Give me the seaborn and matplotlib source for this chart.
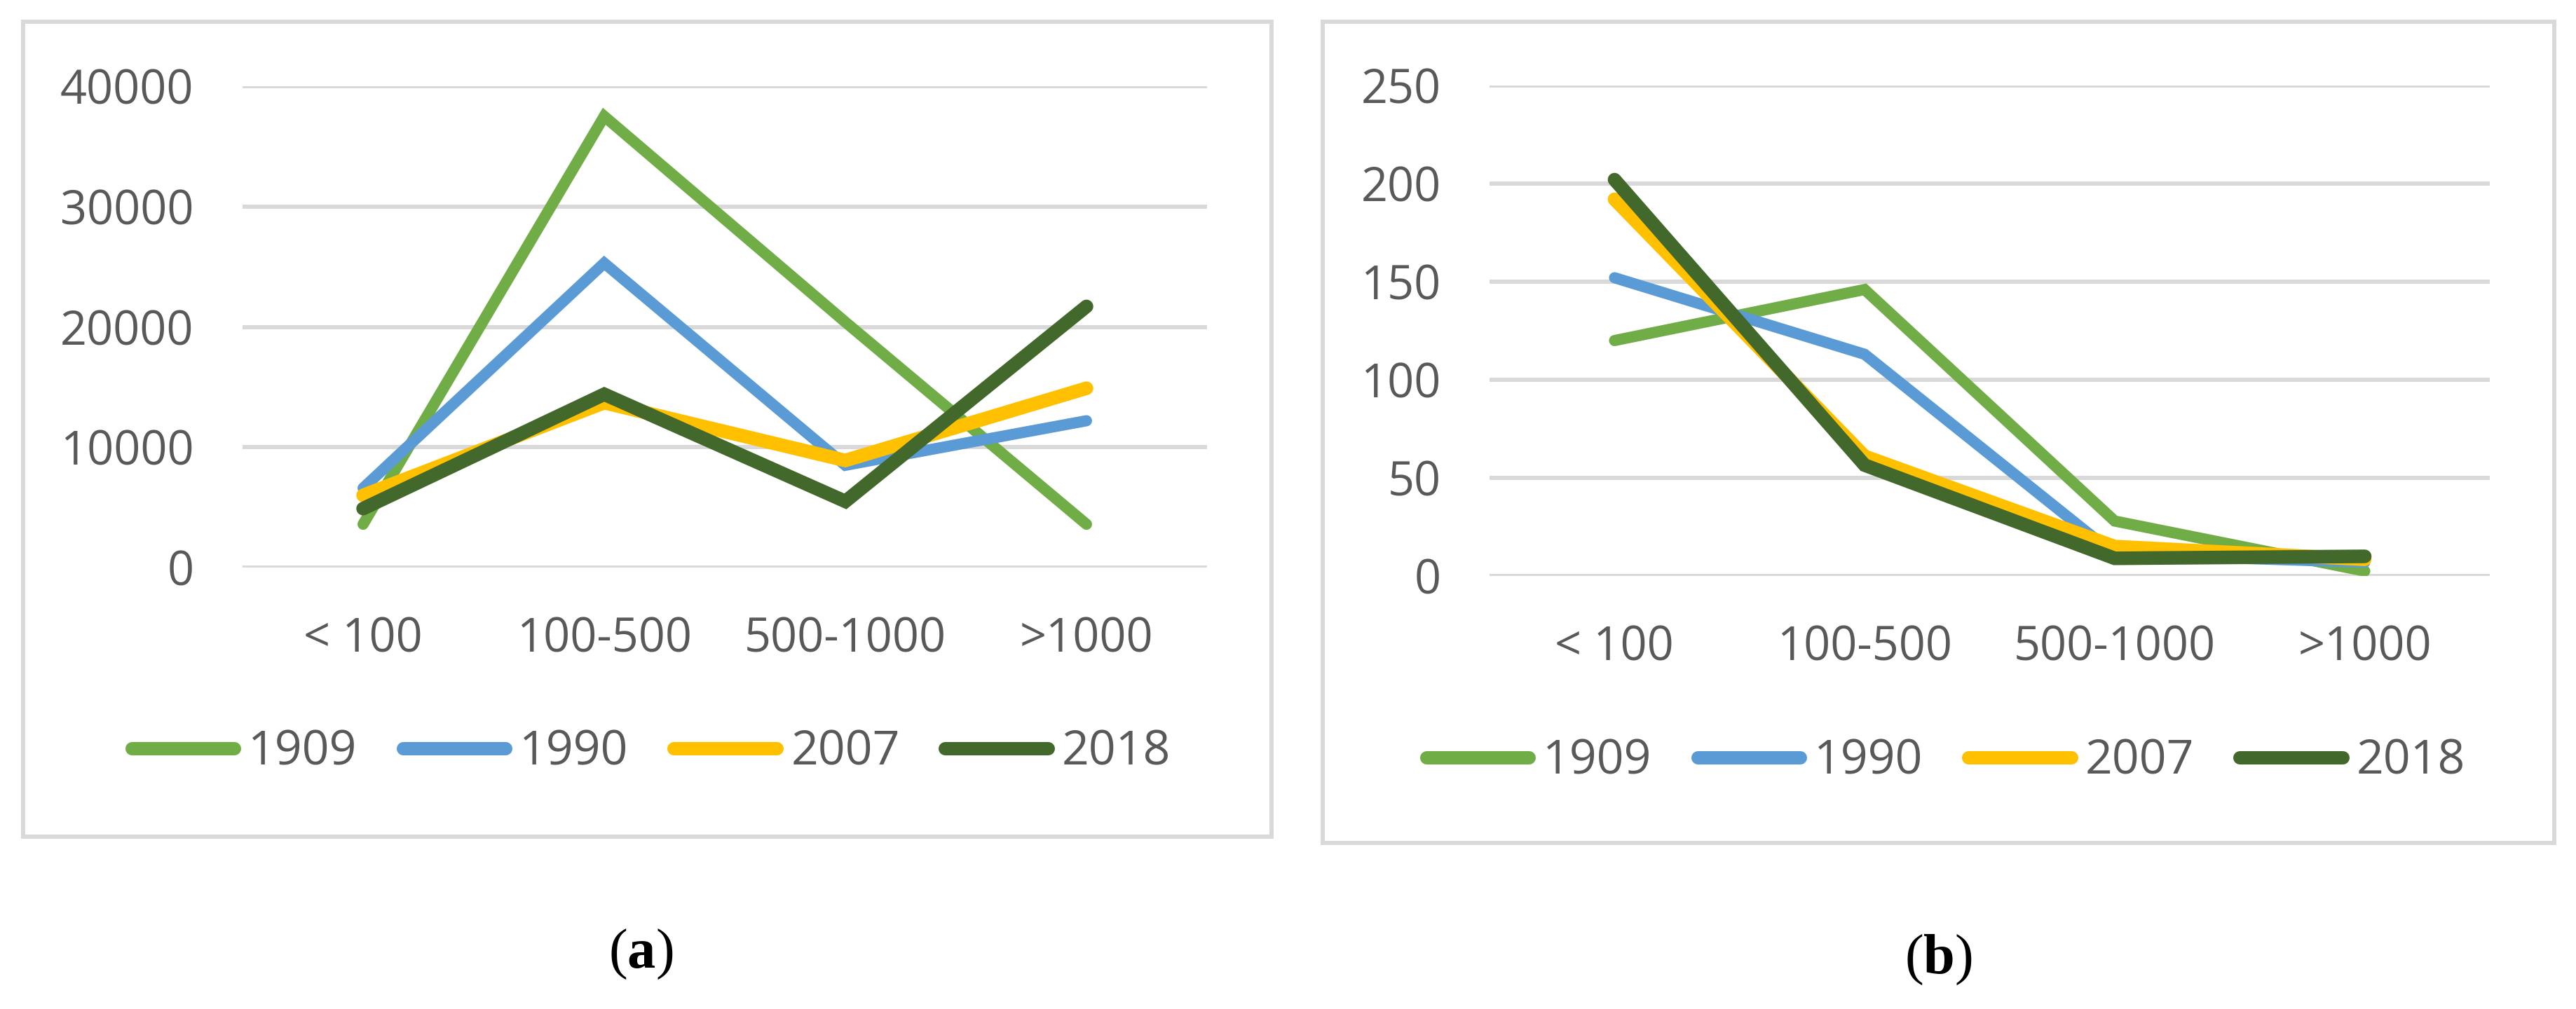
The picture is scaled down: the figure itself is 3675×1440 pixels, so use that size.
import pandas as pd
import numpy as np
import matplotlib
matplotlib.use('Agg')
import matplotlib.pyplot as plt
from matplotlib.lines import Line2D
from matplotlib.patches import Rectangle
import seaborn as sns

# data
sizes = ["< 100", "100-500", "500-1000", ">1000"]
years = ["1909", "1990", "2007", "2018"]

# panel (a)
a_1909 = [3600, 37500, 20400, 3600]
a_1990 = [6600, 25300, 8500, 12200]
a_2007 = [6000, 13700, 8900, 14900]
a_2018 = [4900, 14400, 5500, 21700]

# panel (b)
b_1909 = [120, 146, 28, 2.5]
b_1990 = [152, 113, 11, 7]
b_2007 = [192, 61, 15, 8.5]
b_2018 = [202, 56.5, 9, 10]

colors = {"1909": "#70AD47", "1990": "#5B9BD5", "2007": "#FFC000", "2018": "#43682B"}
widths = {"1909": 11.5, "1990": 11.5, "2007": 14, "2018": 14}
text_col = "#595959"
grid_col = "#D9D9D9"


def long_df(series):
    rows = []
    for yr, vals in zip(years, series):
        for s, v in zip(sizes, vals):
            rows.append({"size": s, "value": v, "year": yr})
    return pd.DataFrame(rows)


df_a = long_df([a_1909, a_1990, a_2007, a_2018])
df_b = long_df([b_1909, b_1990, b_2007, b_2018])

sns.set_theme(style="white")
plt.rcParams['font.family'] = ['Open Sans', 'DejaVu Sans']
plt.rcParams['mathtext.fontset'] = 'custom'
plt.rcParams['mathtext.rm'] = 'Liberation Serif'
plt.rcParams['mathtext.bf'] = 'Liberation Serif:bold'

W, H = 3675, 1440
fig = plt.figure(figsize=(W / 100, H / 100), dpi=100)
fig.patch.set_facecolor("white")


def fx(px):
    return px / W


def fy(py):
    return 1 - py / H


def panel(df, rect, ymax, ystep, box, leg_center):
    x0, x1, ytop, ybot = rect
    ax = fig.add_axes([fx(x0), fy(ybot), fx(x1) - fx(x0), fy(ytop) - fy(ybot)])
    ax.set_axisbelow(True)
    sns.lineplot(data=df, x="size", y="value", hue="year", size="year",
                 palette=colors, sizes=widths, sort=False, legend=False, ax=ax)
    for ln in ax.lines:
        ln.set_solid_capstyle("round")
        ln.set_solid_joinstyle("miter")
    ax.set_xlim(-0.5, 3.5)
    ax.set_ylim(0, ymax)
    ax.set_yticks(np.arange(0, ymax + 1, ystep))
    ax.yaxis.grid(True, color=grid_col, linewidth=4.3)
    ax.xaxis.grid(False)
    for sp in ax.spines.values():
        sp.set_visible(False)
    ax.set_xlabel("")
    ax.set_ylabel("")
    ax.tick_params(axis="both", length=0, labelsize=48, labelcolor=text_col)
    ax.tick_params(axis="y", pad=50)
    ax.tick_params(axis="x", pad=50)
    ax.patch.set_alpha(0)

    # chart border
    bx0, by0, bx1, by1 = box
    fig.patches.append(Rectangle((fx(bx0), fy(by1)), fx(bx1) - fx(bx0), fy(by0) - fy(by1),
                                 transform=fig.transFigure, fill=False,
                                 edgecolor=grid_col, linewidth=4.3, zorder=0))

    handles = [Line2D([0], [0], color=colors[y], lw=13.7, solid_capstyle="round") for y in years]
    fig.legend(handles, years, loc="center", ncol=4, frameon=False,
               bbox_to_anchor=(fx(leg_center[0]), fy(leg_center[1])),
               fontsize=49, labelcolor=text_col, handlelength=2.15,
               handletextpad=0.3, columnspacing=0.95, borderpad=0)
    return ax


panel(df_a, (346, 1722, 123, 810), 40000, 10000, (32.5, 30.5, 1814, 1194), (929, 1074))
panel(df_b, (2125, 3552, 122, 822), 250, 50, (1887, 30.5, 3644, 1203), (2776, 1087))

fig.text(fx(914), fy(1360), r"$\mathrm{(}\mathbf{a}\mathrm{)}$", ha="center", va="center",
         fontsize=58, color="black")
fig.text(fx(2765), fy(1368), r"$\mathrm{(}\mathbf{b}\mathrm{)}$", ha="center", va="center",
         fontsize=58, color="black")

fig.savefig("out.png", dpi=100, facecolor="white")
